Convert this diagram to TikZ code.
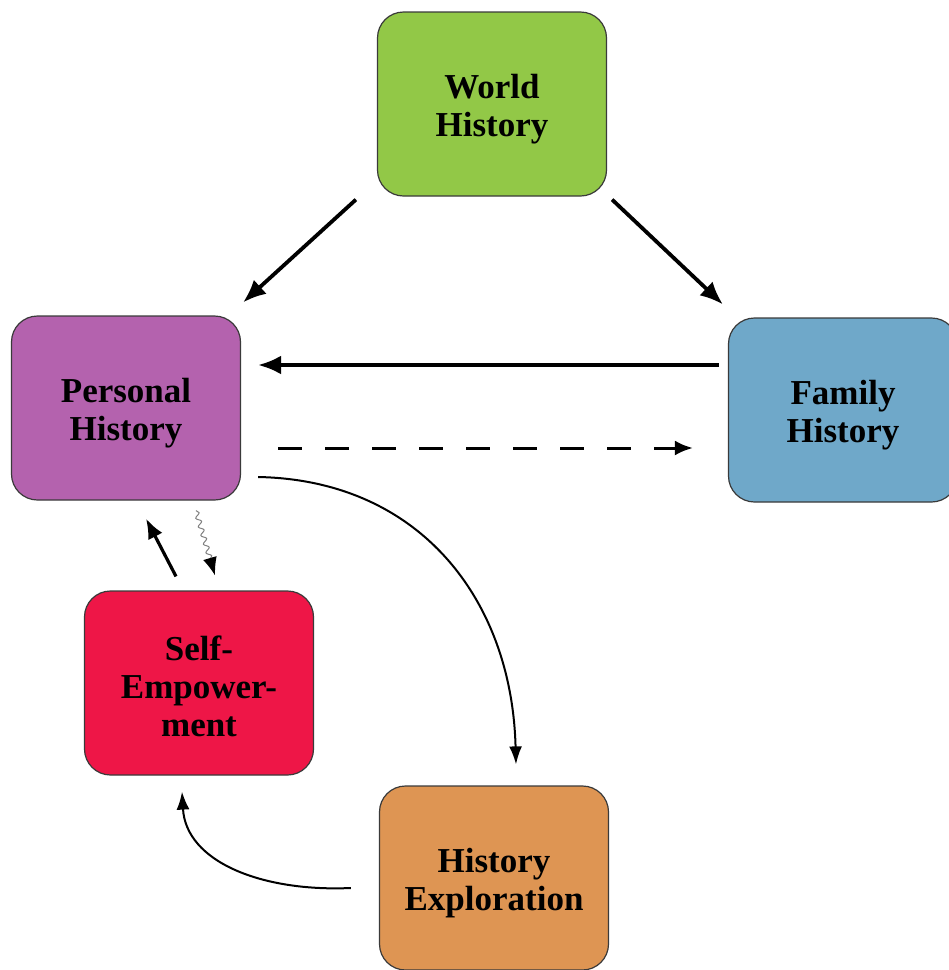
\documentclass[tikz,border=0pt]{standalone}
\usepackage{fontspec}
\setmainfont{Liberation Serif}
\usetikzlibrary{arrows.meta,decorations.pathmorphing}
\definecolor{cgreen}{HTML}{92C847}
\definecolor{cpurple}{HTML}{B462AE}
\definecolor{cblue}{HTML}{6FA8C9}
\definecolor{cred}{HTML}{EE1647}
\definecolor{corange}{HTML}{DE9553}
\definecolor{cborder}{HTML}{3A3A3A}
\tikzset{
  box/.style={draw=cborder, line width=1.2pt, rounded corners=26pt,
    minimum width=229pt, minimum height=184pt, align=center,
    font=\bfseries\fontsize{35}{38}\selectfont, inner sep=0pt},
  bigarrow/.style={line width=3.8pt, -{Latex[length=23pt,width=19pt]}},
  midarrow/.style={line width=3.2pt, -{Latex[length=20pt,width=16pt]}},
  dasharrow/.style={line width=3pt, dash pattern=on 24pt off 23pt, -{Latex[length=18pt,width=15pt]}},
  curvearrow/.style={line width=2pt, -{Latex[length=18pt,width=13pt]}},
  wavyarrow/.style={gray, line width=1pt, decorate,
    decoration={snake, amplitude=2.4pt, segment length=9pt, post length=14pt},
    -{Latex[length=18pt,width=14pt,color=black]}}
}
\begin{document}
\begin{tikzpicture}[x=1pt,y=-1pt]
\useasboundingbox (0,0) rectangle (949,970);
\begin{scope}
\clip (0,0) rectangle (949,970);
\node[box, fill=cgreen] (world) at (492,104) {\rule{0pt}{34pt}World\\History};
\node[box, fill=cpurple] (personal) at (126,408) {\rule{0pt}{34pt}Personal\\History};
\node[box, fill=cblue] (family) at (843,410) {\rule{0pt}{34pt}Family\\History};
\node[box, fill=cred] (self) at (199,683) {\rule{0pt}{32pt}Self-\\Empower-\\ment};
\node[box, fill=corange] (explore) at (494,878) {\rule{0pt}{34pt}History\\Exploration};
\end{scope}

\draw[bigarrow] ([shift={(-21,3)}]world.south west) -- ([shift={(2,-13)}]personal.north east);
\draw[bigarrow] ([shift={(5,3)}]world.south east) -- ([shift={(-5,-13)}]family.north west);
\draw[bigarrow] ([shift={(-9,-45)}]family.west) -- ([shift={(17,-43)}]personal.east);
\draw[dasharrow] ([shift={(37,40)}]personal.east) -- ([shift={(-35,38)}]family.west);
\draw[curvearrow] ([shift={(17,69)}]personal.east) .. controls (420,480) and (512,600) .. ([shift={(22,-21)}]explore.north);
\draw[curvearrow] ([shift={(-28,10)}]explore.west) .. controls (262,892) and (186,862) .. ([shift={(-17,16)}]self.south);
\draw[midarrow] ([shift={(-23,-14)}]self.north) -- ([shift={(20,18)}]personal.south);
\draw[wavyarrow] ([shift={(70,10)}]personal.south) -- ([shift={(16,-15)}]self.north);
\end{tikzpicture}
\end{document}
